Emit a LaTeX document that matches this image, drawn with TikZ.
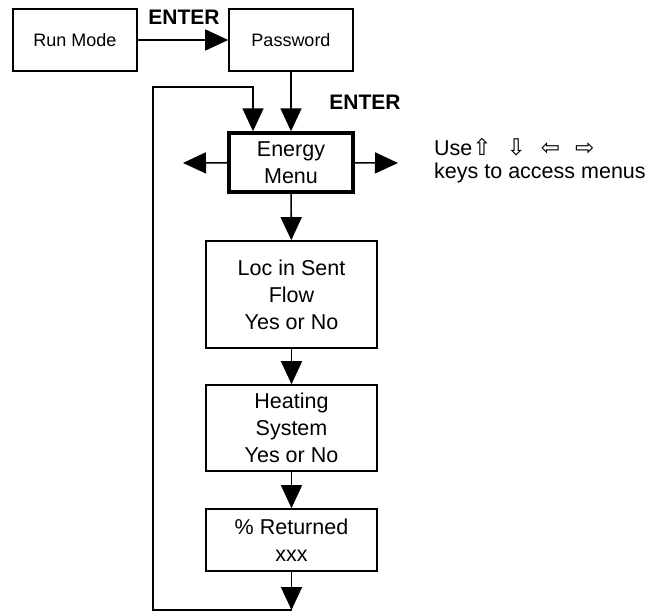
\documentclass[tikz,border=0pt]{standalone}
\usepackage{fontspec}
\setmainfont{Liberation Sans}
\newfontfamily\keyfont{DejaVu Sans}
\usetikzlibrary{arrows.meta, positioning}

\begin{document}
\begin{tikzpicture}[x=1pt, y=-1pt, font=\fontsize{21.5}{27}\selectfont,
        box/.style={draw, line width=1.6pt, align=center, inner sep=0pt},
        menu/.style={box, line width=3.4pt},
        small/.style={font=\fontsize{18}{22}\selectfont},
        arr/.style={-{Triangle[length=23pt, width=21pt]}, line width=1.6pt},
        lbl/.style={font=\fontsize{21}{24}\selectfont\bfseries, inner sep=0pt}]
        \useasboundingbox (0,0) rectangle (653,612);
        \node[box, small, minimum width=124pt, minimum height=62pt] (run) at (75,40) {Run Mode};
        \node[box, small, minimum width=124pt, minimum height=62pt] (pw)  at (291,40) {Password};
        \node[menu, minimum width=124pt, minimum height=59pt] (em)  at (291,162.5) {Energy\\Menu};
        \node[box, minimum width=171pt, minimum height=107pt] (loc)  at (291.5,294.5) {Loc in Sent\\Flow\\Yes or No};
        \node[box, minimum width=171pt, minimum height=86pt]  (heat) at (291.5,428) {Heating\\System\\Yes or No};
        \node[box, minimum width=171pt, minimum height=62pt]  (ret)  at (291.5,540) {\% Returned\\xxx};
        \node[lbl] (ent1) at (184,17)  {ENTER};
        \node[lbl] (ent2) at (365,102) {ENTER};
        \node[anchor=west, align=left, inner sep=0pt, font=\fontsize{21.5}{23}\selectfont] (keys) at (434,161)
            {Use{\keyfont\fontsize{23}{23}\selectfont ⇧\,\, ⇩\,\, ⇦\,\, ⇨}\\keys to access menus};
        \coordinate (lt) at (183,163);
        \coordinate (rt) at (398,163);
        \coordinate (bot) at (291.5,610);
        \coordinate (lp) at (153,87);
        \draw[arr] (run) -- (pw);
        \draw[arr] (pw) -- (em);
        \draw[arr] (em) -- (lt);
        \draw[arr] (em) -- (rt);
        \draw[arr] (em) -- (loc);
        \draw[arr] (loc) -- (heat);
        \draw[arr] (heat) -- (ret);
        \draw[arr] (ret) -- (bot);
        \draw[arr] (bot) -| (lp) -| ([xshift=-38pt]em.north);
\end{tikzpicture}
\end{document}
